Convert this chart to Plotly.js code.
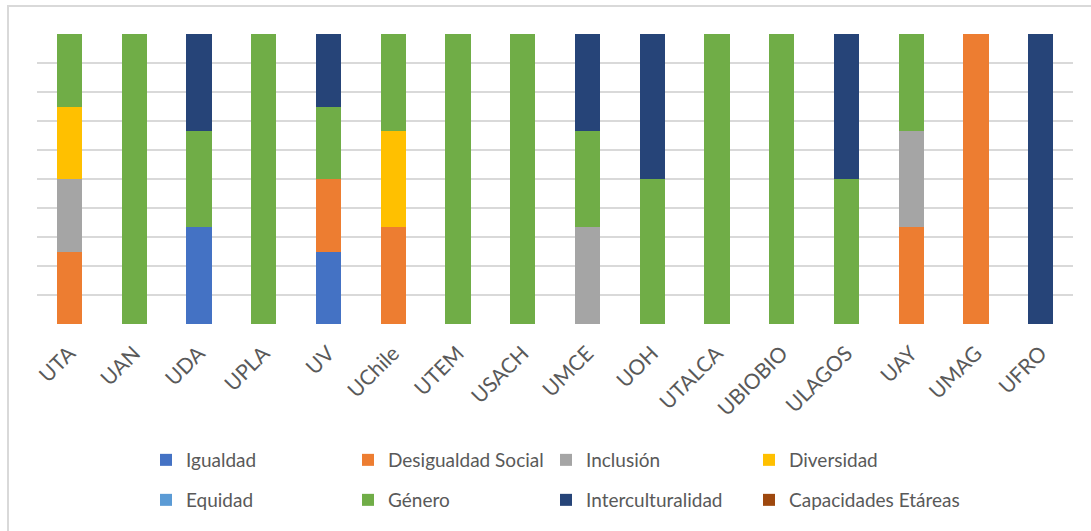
<!DOCTYPE html>
<html>
<head>
<meta charset="utf-8">
<script src="https://cdn.plot.ly/plotly-3.0.1.min.js"></script>
<style>
  html, body { margin: 0; padding: 0; background: #fff; }
  #frame { position: absolute; left: 7px; top: 5px; width: 1200px; height: 600px;
           border-left: 2px solid #d9d9d9; border-top: 2px solid #d9d9d9; pointer-events: none; }
  #chart { position: absolute; left: 0; top: 0; width: 1091px; height: 531px; }
</style>
</head>
<body>
<div id="chart"></div>
<div id="frame"></div>
<script>
const universidades = ["UTA","UAN","UDA","UPLA","UV","UChile","UTEM","USACH","UMCE","UOH","UTALCA","UBIOBIO","ULAGOS","UAY","UMAG","UFRO"];

// Counts of focus categories per university (shown as 100% stacked)
const igualdad            = [0,0,1,0,1,0,0,0,0,0,0,0,0,0,0,0];
const desigualdadSocial   = [1,0,0,0,1,1,0,0,0,0,0,0,0,1,1,0];
const inclusion           = [1,0,0,0,0,0,0,0,1,0,0,0,0,1,0,0];
const diversidad          = [1,0,0,0,0,1,0,0,0,0,0,0,0,0,0,0];
const equidad             = [0,0,0,0,0,0,0,0,0,0,0,0,0,0,0,0];
const genero              = [1,1,1,1,1,1,1,1,1,1,1,1,1,1,0,0];
const interculturalidad   = [0,0,1,0,1,0,0,0,1,1,0,0,1,0,0,1];
const capacidadesEtareas  = [0,0,0,0,0,0,0,0,0,0,0,0,0,0,0,0];

const seriesNames  = ["Igualdad","Desigualdad Social","Inclusión","Diversidad","Equidad","Género","Interculturalidad","Capacidades Etáreas"];
const seriesValues = [igualdad, desigualdadSocial, inclusion, diversidad, equidad, genero, interculturalidad, capacidadesEtareas];
const seriesColors = ["#4472C4","#ED7D31","#A5A5A5","#FFC000","#5B9BD5","#70AD47","#264478","#9E480E"];

// legend grid: 4 columns x 2 rows (pixel positions in the container)
const legendCols = [146, 348, 546, 749];
const legendRows = [460, 500];

const fontFam = "Lato, 'Liberation Sans', sans-serif";
const traces = [];
const layout = {
  width: 1091, height: 531,
  margin: {l: 37, r: 18, t: 34, b: 207},
  paper_bgcolor: "rgba(0,0,0,0)",
  plot_bgcolor: "#fff",
  barmode: "stack",
  barnorm: "percent",
  bargap: 0.61,
  font: {family: fontFam, color: "#595959"},
  xaxis: {
    tickangle: -45,
    tickfont: {family: fontFam, size: 21, color: "#595959"},
    showline: false, ticks: "", showgrid: false, zeroline: false,
    ticklen: 0,
    ticklabelstandoff: 12
  },
  yaxis: {
    range: [0, 100], dtick: 10, showticklabels: false,
    showgrid: true, gridcolor: "#D9D9D9", gridwidth: 2,
    zeroline: false, ticks: "", showline: false
  },
  showlegend: true
};

seriesNames.forEach((name, i) => {
  const legId = i === 0 ? "legend" : "legend" + (i + 1);
  traces.push({
    type: "bar",
    name: name,
    x: universidades,
    y: seriesValues[i],
    legend: legId,
    marker: {color: seriesColors[i], line: {width: 0}},
    hoverinfo: "x+name"
  });
  layout[legId] = {
    orientation: "h",
    xref: "container", yref: "container",
    xanchor: "left", yanchor: "middle",
    x: legendCols[i % 4] / 1091,
    y: 1 - legendRows[Math.floor(i / 4)] / 531,
    font: {family: fontFam, size: 19, color: "#595959"},
    bgcolor: "rgba(0,0,0,0)",
    itemwidth: 30
  };
});

Plotly.newPlot("chart", traces, layout, {displayModeBar: false, staticPlot: true});
</script>
</body>
</html>
